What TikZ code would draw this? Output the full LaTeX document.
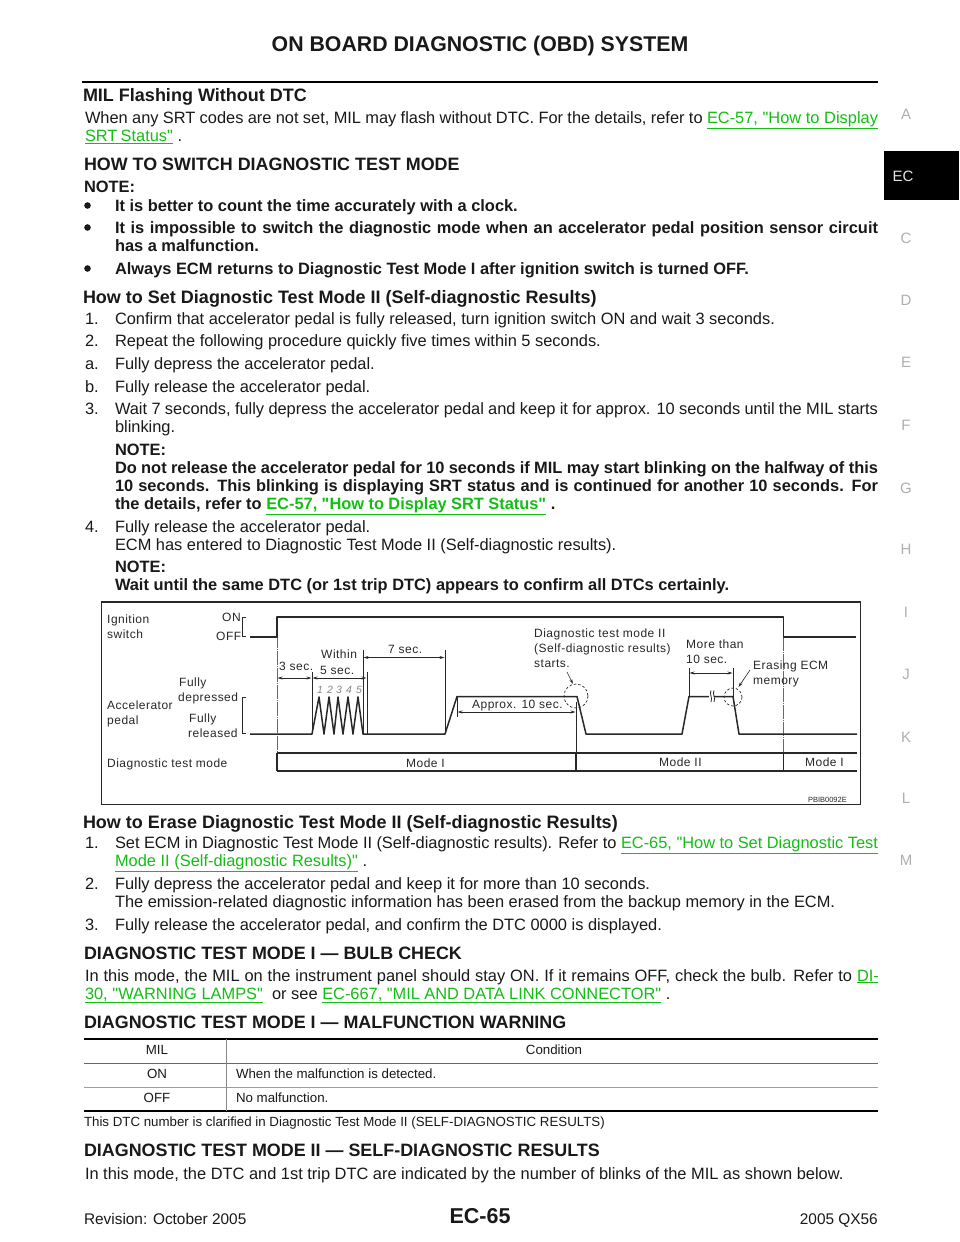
\documentclass[tikz,border=0pt]{standalone}
\usepackage{fontspec}
\setmainfont[Ligatures=TeXOff]{Liberation Sans}
\newfontfamily\chartfont[LetterSpace=4,Ligatures=TeXOff]{Liberation Sans}
\usetikzlibrary{arrows.meta}
\definecolor{linkc}{RGB}{20,190,20}
\definecolor{inkc}{RGB}{25,25,25}
\definecolor{sidec}{RGB}{175,175,175}
\definecolor{chartc}{RGB}{40,40,40}
\newcommand\fs[1]{\fontsize{#1}{#1}\selectfont}
\tikzset{
 x=1pt,y=-1pt,
 txt/.style={anchor=base west,inner sep=0pt,outer sep=0pt,text=inkc},
 body/.style={txt,font=\fs{16.4}},
 bodyb/.style={txt,font=\fs{16.4}\bfseries},
 headm/.style={txt,font=\fs{18}\bfseries},
 heads/.style={txt,font=\fs{17.9}\bfseries},
 side/.style={anchor=center,inner sep=0pt,text=sidec,font=\fs{15}},
 ctext/.style={anchor=base west,inner sep=0pt,text=chartc,font=\fs{12}\chartfont,align=left},
 numc/.style={anchor=base west,inner sep=0pt,text=chartc!55,font=\fs{10.5}\itshape},
 cell/.style={anchor=base,inner sep=0pt,text=inkc,font=\fs{13.3}},
 sig/.style={draw=chartc,line width=1.5pt,line join=round},
 thinl/.style={draw=chartc,line width=.6pt},
 guide/.style={draw=chartc!70,line width=.5pt,dash pattern=on 14pt off 1pt on 1pt off 1pt},
 dim/.style={draw=chartc,line width=.6pt,{Stealth[length=5pt,width=3pt]}-{Stealth[length=5pt,width=3pt]}},
 ptr/.style={draw=chartc,line width=.6pt,-{Stealth[length=5pt,width=3pt]}},
 ring/.style={draw=chartc,line width=.7pt,dash pattern=on 2.5pt off 2pt},
 bul/.style={fill=inkc,draw=none},
}
% line stretched to a known width
\newcommand\fit[2]{\makebox[#1pt][s]{#2}}
\newcommand\lnk[2]{{\color{linkc}\underline{\makebox[#1pt][s]{#2}}}}
\begin{document}
\begin{tikzpicture}
\useasboundingbox (0,0) rectangle (960,1242);
\fill[white] (0,0) rectangle (960,1242);
% header
\node[anchor=base,inner sep=0pt,text=inkc,font=\fs{21.3}\bfseries] (title) at (480,51) {ON BOARD DIAGNOSTIC (OBD) SYSTEM};
\draw[black,line width=2pt] (82,81.5) -- (878,81.5);
% side tabs
\fill[black] (884,151) rectangle (959,200);
\node[anchor=center,inner sep=0pt,text=white!90!black,font=\fs{15}] (tabEC) at (903,176) {EC};
\foreach \l/\y in {A/114,C/238,D/300,E/362,F/425,G/488,H/549,I/612,J/674,K/737,L/798,M/860}
  \node[side] at (906,\y) {\l};
% top block
\node[headm] at (83,101) {MIL Flashing Without DTC};
\node[body] at (85,123.5) {\fit{793}{When any SRT codes are not set, MIL may flash without DTC. For the details, refer to \lnk{171}{EC-57, "How to Display}}};
\node[body] at (85,141.5) {\lnk{88}{SRT Status"} .};
\node[heads] at (84,170) {HOW TO SWITCH DIAGNOSTIC TEST MODE};
\node[bodyb] at (84,192) {NOTE:};
\fill[bul] (87.5,205.5) circle (3.3);
\node[bodyb] at (115,211) {It is better to count the time accurately with a clock.};
\fill[bul] (87.5,227.5) circle (3.3);
\node[bodyb] at (115,233) {\fit{763}{It is impossible to switch the diagnostic mode when an accelerator pedal position sensor circuit}};
\node[bodyb] at (115,251) {has a malfunction.};
\fill[bul] (87.5,268.5) circle (3.3);
\node[bodyb] at (115,274) {Always ECM returns to Diagnostic Test Mode I after ignition switch is turned OFF.};
\node[headm] at (83,303) {How to Set Diagnostic Test Mode II (Self-diagnostic Results)};
\node[body] at (85,324) {1.};
\node[body] at (115,324) {Confirm that accelerator pedal is fully released, turn ignition switch ON and wait 3 seconds.};
\node[body] at (85,346) {2.};
\node[body] at (115,346) {Repeat the following procedure quickly five times within 5 seconds.};
\node[body] at (85,369) {a.};
\node[body] at (115,369) {Fully depress the accelerator pedal.};
\node[body] at (85,392) {b.};
\node[body] at (115,392) {Fully release the accelerator pedal.};
\node[body] at (85,414) {3.};
\node[body] at (115,414) {\fit{763}{Wait 7 seconds, fully depress the accelerator pedal and keep it for approx. 10 seconds until the MIL starts}};
\node[body] at (115,432) {blinking.};
\node[bodyb] at (115,455) {NOTE:};
\node[bodyb] at (115,473) {\fit{763}{Do not release the accelerator pedal for 10 seconds if MIL may start blinking on the halfway of this}};
\node[bodyb] at (115,491) {\fit{763}{10 seconds. This blinking is displaying SRT status and is continued for another 10 seconds. For}};
\node[bodyb] at (115,509) {the details, refer to \lnk{280}{EC-57, "How to Display SRT Status"} .};
\node[body] at (85,532) {4.};
\node[body] at (115,532) {Fully release the accelerator pedal.};
\node[body] at (115,550) {ECM has entered to Diagnostic Test Mode II (Self-diagnostic results).};
\node[bodyb] at (115,572) {NOTE:};
\node[bodyb] at (115,590.5) {Wait until the same DTC (or 1st trip DTC) appears to confirm all DTCs certainly.};
% chart frame
\draw[draw=chartc,line width=1.4pt] (101.5,602) rectangle (860.5,804.5);
% chart guides
\draw[guide] (277,617) -- (277,753);
\draw[guide] (783.5,637) -- (783.5,753);
\draw[thinl] (576,702) -- (576,753);
% ignition
\draw[sig] (250,637) -- (277,637) -- (277,617) -- (783.5,617) -- (783.5,637) -- (856,637);
\draw[thinl,line width=.9pt] (246,617) -- (242,617) -- (242,636.5) -- (246,636.5);
% pedal
\draw[sig] (250,734) -- (312,734) -- (319,697) -- (324,734) -- (329,697) -- (334,734) -- (338,697) -- (343,734) -- (348,697) -- (353,734) -- (358,697) -- (363,734) -- (445,734) -- (457,696.5) -- (577,696.5) -- (586,734) -- (682,734) -- (689,696.5) -- (733,696.5) -- (739,734) -- (857,734);
\draw[thinl,line width=.9pt] (246,697) -- (242,697) -- (242,733.5) -- (246,733.5);
% break mark on flat
\fill[white] (709,691) rectangle (714,702);
\draw[thinl,line width=.8pt] (711,690.5) .. controls (709,694) and (713,698) .. (711,702);
\draw[thinl,line width=.8pt] (714,690.5) .. controls (712,694) and (716,698) .. (714,702);
% mode bar
\draw[sig] (277,753) -- (857,753);
\draw[sig,line width=1.1pt] (277,771) -- (857,771);
\draw[sig,line width=1.1pt] (277,753) -- (277,771);
\draw[sig] (576,753) -- (576,771);
\draw[sig] (783.5,753) -- (783.5,771);
% ticks and dimensions
\draw[thinl] (312,672) -- (312,734);
\draw[thinl] (363,650) -- (363,734);
\draw[thinl] (367,672) -- (367,734);
\draw[thinl] (445,650) -- (445,734);
\draw[thinl] (457,697) -- (457,717);
\draw[thinl] (689,668) -- (689,697);
\draw[thinl] (733,668) -- (733,697);
\draw[dim] (277.5,678) -- (311.5,678);
\draw[dim] (312.5,678) -- (366.5,678);
\draw[dim] (363.5,657.5) -- (444.5,657.5);
\draw[dim] (689.5,673) -- (732.5,673);
\draw[dim] (457.5,712) -- (575.5,712);
% circles and pointers
\draw[ring] (576,696) circle (12);
\draw[ring] (733,697) circle (9);
\draw[ptr] (567,672) -- (573,684);
\draw[ptr] (750,670) -- (738.5,687);
% chart labels
\node[ctext] at (107,623) {Ignition};
\node[ctext] at (107,638) {switch};
\node[ctext] at (222,621) {ON};
\node[ctext] at (216,640) {OFF};
\node[ctext] at (279,670) {3 sec.};
\node[ctext] at (321,658) {Within};
\node[ctext] at (320,674) {5 sec.};
\node[ctext] at (388,653) {7 sec.};
\node[ctext] at (179,686) {Fully};
\node[ctext] at (178,701) {depressed};
\node[ctext] at (107,709) {Accelerator};
\node[ctext] at (107,724) {pedal};
\node[ctext] at (189,722) {Fully};
\node[ctext] at (188,737) {released};
\node[ctext] at (107,767) {Diagnostic test mode};
\node[numc] at (317,693) {1};
\node[numc] at (327,693) {2};
\node[numc] at (336,693) {3};
\node[numc] at (346,693) {4};
\node[numc] at (356,693) {5};
\node[ctext] at (472,708) {Approx. 10 sec.};
\node[ctext] at (534,637) {Diagnostic test mode II};
\node[ctext] at (534,652) {(Self-diagnostic results)};
\node[ctext] at (534,667) {starts.};
\node[ctext] at (686,648) {More than};
\node[ctext] at (686,663) {10 sec.};
\node[ctext] at (753,669) {Erasing ECM};
\node[ctext] at (753,684) {memory};
\node[ctext] at (406,767) {Mode I};
\node[ctext] at (659,766) {Mode II};
\node[ctext] at (805,766) {Mode I};
\node[txt,font=\fs{7.5},text=chartc] at (808,802) {PBIB0092E};
% lower block
\node[headm] at (83,828) {How to Erase Diagnostic Test Mode II (Self-diagnostic Results)};
\node[body] at (85,848.5) {1.};
\node[body] at (115,848.5) {\fit{763}{Set ECM in Diagnostic Test Mode II (Self-diagnostic results). Refer to \lnk{257}{EC-65, "How to Set Diagnostic Test}}};
\node[body] at (115,866.5) {\lnk{243}{Mode II (Self-diagnostic Results)"} .};
\node[body] at (85,889) {2.};
\node[body] at (115,889) {Fully depress the accelerator pedal and keep it for more than 10 seconds.};
\node[body] at (115,907) {The emission-related diagnostic information has been erased from the backup memory in the ECM.};
\node[body] at (85,930) {3.};
\node[body] at (115,930) {Fully release the accelerator pedal, and confirm the DTC 0000 is displayed.};
\node[heads] at (84,959) {DIAGNOSTIC TEST MODE I — BULB CHECK};
\node[body] at (85,981) {\fit{793}{In this mode, the MIL on the instrument panel should stay ON. If it remains OFF, check the bulb. Refer to \lnk{21}{DI-}}};
\node[body] at (85,999) {\lnk{178}{30, "WARNING LAMPS"} \ or see \lnk{339}{EC-667, "MIL AND DATA LINK CONNECTOR"} .};
\node[heads] at (84,1028) {DIAGNOSTIC TEST MODE I — MALFUNCTION WARNING};
% table
\draw[black,line width=1.5pt] (84,1039) -- (878,1039);
\draw[draw=chartc!70,line width=.7pt] (84,1063) -- (878,1063);
\draw[draw=chartc!45,line width=.7pt] (84,1087) -- (878,1087);
\draw[black,line width=1.5pt] (84,1111) -- (878,1111);
\draw[draw=chartc!55,line width=.6pt] (226.5,1039) -- (226.5,1111);
\node[cell] at (157,1054) {MIL};
\node[cell] at (554,1054) {Condition};
\node[cell] at (157,1078) {ON};
\node[txt,font=\fs{13.3}] at (236,1078) {When the malfunction is detected.};
\node[cell] at (157,1102) {OFF};
\node[txt,font=\fs{13.3}] at (236,1102) {No malfunction.};
\node[txt,font=\fs{13.3}] at (84,1126) {This DTC number is clarified in Diagnostic Test Mode II (SELF-DIAGNOSTIC RESULTS)};
\node[heads] at (84,1156) {DIAGNOSTIC TEST MODE II — SELF-DIAGNOSTIC RESULTS};
\node[body] at (85,1179) {In this mode, the DTC and 1st trip DTC are indicated by the number of blinks of the MIL as shown below.};
% footer
\node[txt,font=\fs{15.4}] at (84,1224) {Revision: October 2005};
\node[anchor=base,inner sep=0pt,text=inkc,font=\fs{21.5}\bfseries] at (480,1223) {EC-65};
\node[anchor=base east,inner sep=0pt,text=inkc,font=\fs{15.4}] at (878,1224) {2005 QX56};
\end{tikzpicture}
\end{document}
